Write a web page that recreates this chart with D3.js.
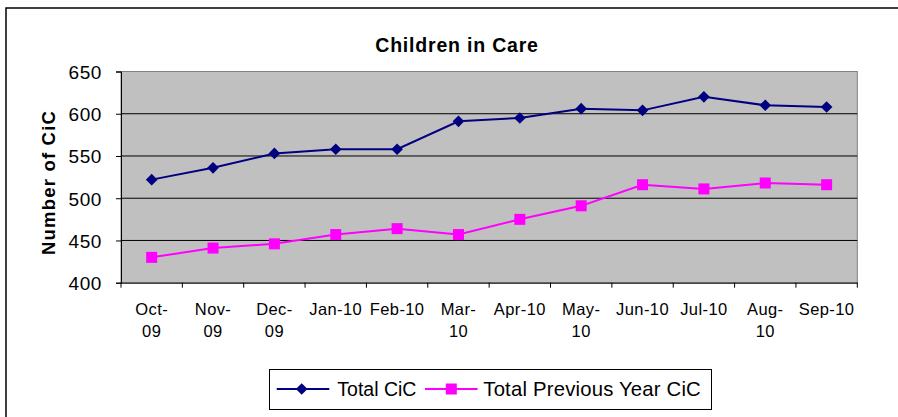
<!DOCTYPE html>
<html><head><meta charset="utf-8">
<script src="https://cdn.jsdelivr.net/npm/d3@7"></script>
<style>
html,body{margin:0;padding:0;background:#fff;}
svg{display:block;font-family:"Liberation Sans",Arial,sans-serif;}
</style></head>
<body><svg id="c" width="898" height="417"></svg>
<script>
const categories = ["Oct-09","Nov-09","Dec-09","Jan-10","Feb-10","Mar-10","Apr-10","May-10","Jun-10","Jul-10","Aug-10","Sep-10"];
const tickLabels = [["Oct-","09"],["Nov-","09"],["Dec-","09"],["Jan-10"],["Feb-10"],["Mar-","10"],["Apr-10"],["May-","10"],["Jun-10"],["Jul-10"],["Aug-","10"],["Sep-10"]];
const totalCiC = [522,536,553,558,558,591,595,606,604,620,610,608];
const prevYearCiC = [430,441,446,457,464,457,475,491,516,511,518,516];
const yTicks = [400,450,500,550,600,650];
const seriesNames = ["Total CiC","Total Previous Year CiC"];
const seriesColors = ["#000080","#FF00FF"];

const svg = d3.select("#c");
const L = 121, R = 857.3, T = 71.5, B = 282.7;

// outer border
svg.append("rect").attr("x",6).attr("y",8).attr("width",1000).attr("height",1000)
  .attr("fill","none").attr("stroke","#000").attr("stroke-width",1.5);

const x = d3.scaleBand().domain(categories).range([L,R]).padding(0);
const y = d3.scaleLinear().domain([400,650]).range([B,T]);

// plot area
svg.append("rect").attr("x",L).attr("y",T).attr("width",R-L).attr("height",B-T)
  .attr("fill","#C0C0C0").attr("stroke","#808080").attr("stroke-width",1);

// gridlines
svg.append("g").selectAll("line").data(yTicks.filter(d=>d>400 && d<650)).join("line")
  .attr("x1",L).attr("x2",R).attr("y1",d=>y(d)).attr("y2",d=>y(d))
  .attr("stroke","#000").attr("stroke-width",1);

// y axis
const yAxis = svg.append("g").attr("transform",`translate(${L},0)`)
  .call(d3.axisLeft(y).tickValues(yTicks).tickSize(5).tickPadding(14).tickFormat(d3.format("d")));
yAxis.select(".domain").attr("stroke","#000").attr("stroke-width",1);
yAxis.selectAll(".tick line").attr("stroke","#000");
yAxis.selectAll("text").attr("font-size",19).attr("fill","#000").attr("letter-spacing","0.6px")
  .attr("font-family","Liberation Sans, Arial, sans-serif").attr("dy","0.36em");

// x axis
const xAxis = svg.append("g").attr("transform",`translate(0,${B})`)
  .call(d3.axisBottom(x).tickSize(0).tickFormat(""));
xAxis.select(".domain").attr("stroke","#000").attr("stroke-width",1);
// category boundary ticks
const bounds = categories.map(c=>x(c)).concat([R]);
svg.append("g").selectAll("line").data(bounds).join("line")
  .attr("x1",d=>d).attr("x2",d=>d).attr("y1",B).attr("y2",B+5)
  .attr("stroke","#000").attr("stroke-width",1);
// x labels
const xl = svg.append("g").selectAll("text").data(categories).join("text")
  .attr("x",d=>x(d)+x.bandwidth()/2).attr("y",315.3)
  .attr("text-anchor","middle").attr("font-size",16.5).attr("letter-spacing","0.4px").attr("fill","#000");
xl.each(function(d,i){
  const t = d3.select(this);
  tickLabels[i].forEach((s,j)=>{
    t.append("tspan").attr("x",x(d)+x.bandwidth()/2).attr("dy",j===0?0:22).text(s);
  });
});

// lines
const line = d3.line().x((d,i)=>x(categories[i])+x.bandwidth()/2).y(d=>y(d));
[totalCiC,prevYearCiC].forEach((data,k)=>{
  svg.append("path").datum(data).attr("d",line).attr("fill","none")
    .attr("stroke",seriesColors[k]).attr("stroke-width",2);
});
// markers
const diamond = d3.symbol().type(d3.symbolSquare).size(68)();
svg.append("g").selectAll("path").data(totalCiC).join("path")
  .attr("d",diamond)
  .attr("transform",(d,i)=>`translate(${x(categories[i])+x.bandwidth()/2},${y(d)}) rotate(45)`)
  .attr("fill",seriesColors[0]);
svg.append("g").selectAll("rect").data(prevYearCiC).join("rect")
  .attr("x",(d,i)=>x(categories[i])+x.bandwidth()/2-5.5).attr("y",d=>y(d)-5.5)
  .attr("width",11).attr("height",11).attr("fill",seriesColors[1]);

// title
svg.append("text").attr("x",457).attr("y",51.7).attr("text-anchor","middle")
  .attr("font-size",19.5).attr("font-weight","bold").attr("letter-spacing","0.8px").text("Children in Care");

// y title
svg.append("text").attr("transform","translate(54.5,182.5) rotate(-90)").attr("text-anchor","middle")
  .attr("font-size",18.5).attr("font-weight","bold").attr("letter-spacing","1.2px").text("Number of CiC");

// legend
const lg = svg.append("g");
lg.append("rect").attr("x",269.5).attr("y",369.5).attr("width",442).attr("height",40)
  .attr("fill","#fff").attr("stroke","#000").attr("stroke-width",1);
const lx = [276.7, 425];
const tx = [337.3, 483.3];
seriesNames.forEach((n,k)=>{
  lg.append("line").attr("x1",lx[k]).attr("x2",lx[k]+52.6).attr("y1",389).attr("y2",389)
    .attr("stroke",seriesColors[k]).attr("stroke-width",2);
  if(k===0){
    lg.append("path").attr("d",diamond).attr("transform",`translate(${lx[k]+25},389) rotate(45)`).attr("fill",seriesColors[k]);
  } else {
    lg.append("rect").attr("x",lx[k]+26.3-5.5).attr("y",389-5.5).attr("width",11).attr("height",11).attr("fill",seriesColors[k]);
  }
  lg.append("text").attr("x",tx[k]).attr("y",396).attr("font-size",k===0?19.5:20.3)
    .attr("letter-spacing",k===0?"0px":"0.2px").attr("fill","#000").text(n);
});
</script></body></html>
